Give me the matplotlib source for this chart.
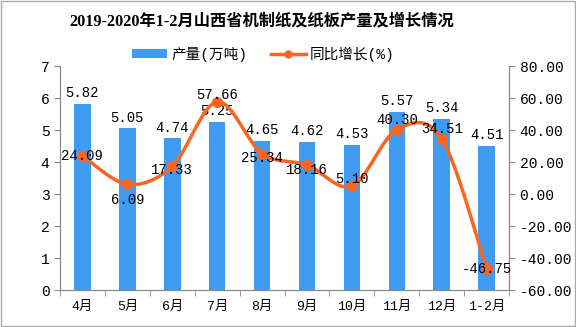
import matplotlib
matplotlib.use("Agg")
import matplotlib.pyplot as plt
import numpy as np
from matplotlib.path import Path
from matplotlib.patches import PathPatch, Rectangle
from matplotlib.lines import Line2D
from matplotlib.patches import Patch

plt.rcParams['font.family'] = ['Liberation Mono', 'Noto Sans CJK SC', 'DejaVu Sans']

categories = ['4月', '5月', '6月', '7月', '8月', '9月', '10月', '11月', '12月', '1-2月']
output = [5.82, 5.05, 4.74, 5.25, 4.65, 4.62, 4.53, 5.57, 5.34, 4.51]
growth = [24.09, 6.09, 17.33, 57.66, 25.34, 18.16, 5.10, 40.30, 34.51, -46.75]
left_ticks = [0, 1, 2, 3, 4, 5, 6, 7]
right_ticks = [-60, -40, -20, 0, 20, 40, 60, 80]

title = '2019-2020年1-2月山西省机制纸及纸板产量及增长情况'
bar_name = '产量(万吨)'
line_name = '同比增长(%)'

bar_color = '#3f9cf0'
line_color = '#fb6520'

fig = plt.figure(figsize=(5.76, 3.27), dpi=100)
ax = fig.add_axes([0.104, 0.113, 0.78, 0.685])
ax2 = ax.twinx()

x = np.arange(len(categories))
ax.bar(x, output, width=0.37, color=bar_color, zorder=2)
ax.set_ylim(0, 7)
ax.set_xlim(-0.5, len(categories) - 0.5)
ax.set_yticks(left_ticks)
ax.set_yticklabels([str(t) for t in left_ticks], fontsize=10.5)
ax.set_xticks(x)
ax.set_xticklabels(categories, fontsize=9.5, family=['Liberation Mono', 'Noto Sans CJK SC'])
ax.set_xticks(np.arange(-0.5, len(categories), 1), minor=True)
ax.tick_params(axis='x', which='major', length=0, pad=8)
ax.tick_params(axis='x', which='minor', length=4, color='#888888')
ax.tick_params(axis='y', length=4, color='#888888')

for xi, v in zip(x, output):
    ax.text(xi, v + 0.12, f'{v:.2f}', ha='center', va='bottom', fontsize=10, zorder=5)

for sp in ['top']:
    ax.spines[sp].set_visible(False)
    ax2.spines[sp].set_visible(False)
for a in (ax, ax2):
    for sp in ['left', 'right', 'bottom']:
        a.spines[sp].set_color('#888888')

ax2.set_ylim(-60, 80)
ax2.set_yticks(right_ticks)
ax2.set_yticklabels([f'{t:.2f}' for t in right_ticks], fontsize=10.5)
ax2.tick_params(axis='y', length=4, color='#888888')

# smooth line via Catmull-Rom Bezier path through the data points
pts = np.column_stack([x, growth]).astype(float)
verts = [tuple(pts[0])]
codes = [Path.MOVETO]
n = len(pts)
for i in range(n - 1):
    p0 = pts[i - 1] if i > 0 else pts[i]
    p1 = pts[i]
    p2 = pts[i + 1]
    p3 = pts[i + 2] if i + 2 < n else pts[i + 1]
    c1 = p1 + (p2 - p0) / 6.0
    c2 = p2 - (p3 - p1) / 6.0
    verts += [tuple(c1), tuple(c2), tuple(p2)]
    codes += [Path.CURVE4, Path.CURVE4, Path.CURVE4]
patch = PathPatch(Path(verts, codes), facecolor='none', edgecolor=line_color, lw=2.5, zorder=3)
ax2.add_patch(patch)
ax2.plot(x, growth, linestyle='none', marker='o', markersize=7, color=line_color, zorder=4)

offsets = [0, -10, -2, 4, -3, -3, 4, 6, 6, 0]
for xi, v, off in zip(x, growth, offsets):
    ax2.text(xi, v + off, f'{v:.2f}', ha='center', va='center', fontsize=10, zorder=5)

fig.text(0.455, 0.935, title, ha='center', va='center', fontsize=11.7, fontweight='bold',
         family=['Liberation Serif', 'Noto Sans CJK SC'])

handles = [Patch(facecolor=bar_color), Line2D([0], [0], color=line_color, lw=2.5, marker='o', markersize=5)]
fig.legend(handles, [bar_name, line_name], loc='center', bbox_to_anchor=(0.457, 0.835), ncol=2,
           frameon=False, handlelength=2.4, handleheight=0.5, handletextpad=0.3, columnspacing=1.6,
           prop={'family': ['Liberation Mono', 'Noto Sans CJK SC'], 'size': 10.5})

fig.add_artist(Rectangle((0.001, 0.002), 0.997, 0.995, transform=fig.transFigure, fill=False,
                         edgecolor='#aaaaaa', lw=1))

fig.savefig('out.png', dpi=100)
